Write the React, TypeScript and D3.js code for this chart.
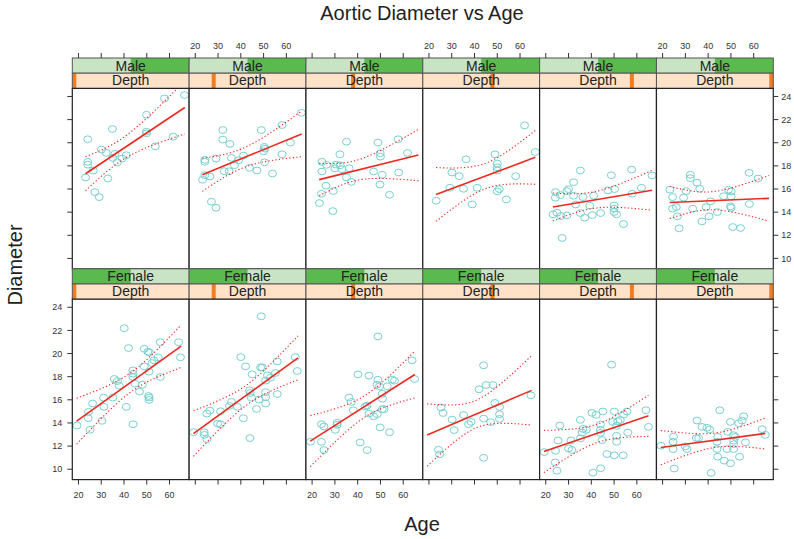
import React from 'react';
import * as d3 from 'd3';

// ---- Data -----------------------------------------------------------
const sexLevels = ['Female', 'Male'];
const depthLevels = [1, 2, 3, 4, 5, 6];
const xTicks = [20, 30, 40, 50, 60];
const yTicks = [10, 12, 14, 16, 18, 20, 22, 24];
const titleText = 'Aortic Diameter vs Age';
const xLabel = 'Age';
const yLabel = 'Diameter';

type P = [number, number];

const male1: P[] = [[66.6,24.12],[57.8,23.83],[49.9,22.42],[34.9,21.19],[24.1,20.30],[49.9,20.96],[49.9,20.81],[61.6,20.53],[53.7,19.69],[30.1,19.41],[32.2,19.12],[36.0,19.04],[41.0,18.92],[35.1,18.69],[39.2,18.63],[37.1,18.31],[24.1,18.35],[24.1,18.11],[26.5,17.60],[23.1,17.00],[32.9,16.91],[27.2,15.73],[29.1,15.30]];
const male2: P[] = [[66.6,22.59],[58.1,21.53],[32.1,21.10],[49.0,21.10],[32.1,20.27],[35.2,19.90],[61.8,20.01],[50.3,19.64],[50.6,19.49],[50.0,19.26],[58.1,19.00],[41.2,18.89],[35.9,18.69],[29.1,18.63],[24.2,18.52],[24.2,18.35],[39.0,18.48],[50.4,18.31],[37.2,18.06],[43.8,17.83],[47.1,17.60],[53.9,17.34],[32.7,17.54],[34.9,17.54],[24.2,17.20],[26.4,17.08],[23.2,16.80],[27.1,14.90],[29.1,14.38]];
const male3: P[] = [[35.1,20.09],[48.9,20.01],[57.8,20.30],[32.2,19.00],[49.9,19.09],[50.0,18.80],[61.9,19.12],[24.3,18.35],[26.3,18.09],[30.5,18.11],[32.3,18.05],[30.0,17.79],[33.1,17.71],[36.3,17.79],[24.3,17.51],[47.0,17.51],[50.8,17.23],[58.0,17.43],[35.1,17.00],[37.2,16.62],[26.1,16.28],[49.8,16.39],[29.3,15.82],[24.1,15.59],[54.0,15.50],[23.2,14.78],[29.1,14.09]];
const male4: P[] = [[62.0,21.50],[66.7,19.20],[36.3,18.57],[49.0,19.00],[50.0,18.20],[50.0,17.88],[50.0,17.60],[30.1,17.43],[33.3,17.11],[58.1,17.11],[29.2,16.11],[35.2,16.02],[41.2,16.11],[50.9,15.99],[50.0,15.79],[54.0,15.10],[23.2,14.99],[39.0,14.67]];
const male5: P[] = [[35.2,17.60],[57.7,17.68],[66.7,17.17],[48.8,17.19],[32.2,16.59],[24.3,15.73],[30.0,15.99],[29.3,15.82],[24.2,15.25],[26.4,15.47],[32.2,15.42],[36.3,15.30],[41.0,15.42],[47.3,15.88],[50.2,15.99],[57.9,15.59],[62.0,16.11],[33.1,14.66],[39.3,14.56],[50.0,14.58],[50.0,14.30],[50.0,14.01],[51.1,13.81],[23.2,13.81],[24.9,13.95],[29.3,13.72],[26.7,13.66],[35.2,13.92],[40.4,13.75],[44.1,13.92],[37.1,13.52],[54.1,12.97],[27.2,11.77]];
const male6: P[] = [[32.2,17.23],[32.2,16.94],[58.0,17.40],[61.9,16.91],[35.1,16.54],[36.3,16.02],[30.3,15.82],[23.2,15.94],[24.4,15.30],[29.2,15.25],[48.9,15.94],[50.1,15.79],[46.8,15.38],[50.1,15.36],[24.4,14.30],[26.0,14.44],[33.2,14.30],[39.1,14.44],[41.1,14.93],[44.0,14.01],[49.8,14.50],[50.1,14.38],[58.1,14.70],[26.5,13.64],[40.4,13.64],[37.3,13.20],[27.3,12.60],[50.8,12.71],[54.2,12.63]];

const female1: P[] = [[40.1,22.19],[42.0,20.47],[48.9,20.41],[50.5,20.15],[51.1,20.09],[55.9,20.98],[64.0,20.98],[64.8,19.67],[55.0,19.67],[53.1,19.41],[52.3,19.18],[48.9,18.89],[51.0,18.43],[43.9,18.54],[43.9,18.26],[43.9,17.97],[55.9,17.97],[35.7,17.80],[37.1,17.62],[37.9,17.22],[44.8,17.39],[48.1,17.31],[46.8,16.71],[50.8,16.33],[51.0,16.19],[51.0,15.99],[31.0,16.19],[35.1,16.19],[41.0,15.39],[31.2,15.39],[26.2,15.68],[24.4,14.96],[24.3,14.41],[25.1,13.41],[30.3,14.18],[19.4,13.78],[44.0,13.89]];
const female2: P[] = [[49.0,23.22],[40.0,19.69],[42.1,18.89],[48.7,18.80],[49.4,18.80],[45.0,18.20],[51.7,18.11],[53.0,17.91],[55.2,18.32],[56.0,19.32],[63.9,19.69],[64.8,18.49],[50.9,17.66],[43.8,16.82],[44.1,16.59],[44.6,16.19],[48.0,16.02],[50.9,16.66],[50.9,16.24],[50.9,15.68],[46.9,15.21],[56.0,16.50],[41.1,14.41],[35.9,15.82],[35.0,15.47],[38.5,15.39],[31.1,15.01],[26.4,15.07],[25.1,14.81],[29.8,13.95],[31.1,13.89],[19.2,13.20],[23.9,13.20],[24.0,12.97],[25.1,12.60],[44.0,12.69]];
const female3: P[] = [[48.9,21.48],[40.1,18.20],[45.0,18.09],[48.9,17.74],[48.5,17.31],[49.6,17.17],[55.2,17.74],[56.2,17.66],[53.0,17.17],[63.9,19.41],[65.0,17.80],[36.2,16.19],[37.2,15.82],[44.1,15.50],[43.3,15.42],[50.8,16.53],[50.9,16.10],[50.8,15.19],[51.6,15.19],[38.1,15.10],[45.0,14.81],[47.0,14.58],[48.6,14.76],[31.0,14.01],[31.0,13.84],[24.1,13.89],[25.2,13.69],[30.2,13.40],[49.9,13.61],[54.0,13.20],[19.3,12.37],[24.1,12.37],[25.2,11.66],[41.1,12.31],[44.2,11.65]];
const female4: P[] = [[44.0,18.98],[45.1,17.28],[48.1,17.28],[42.0,16.91],[25.3,15.33],[26.2,14.86],[35.2,14.69],[30.2,14.29],[31.1,13.38],[38.5,14.09],[37.4,13.89],[44.0,14.38],[47.1,14.07],[49.0,15.73],[51.0,15.38],[51.0,14.75],[51.0,14.35],[64.8,16.39],[24.2,11.68],[24.7,11.28],[44.0,10.99]];
const female5: P[] = [[48.9,19.04],[64.0,15.10],[55.7,14.99],[45.1,14.99],[40.3,14.87],[42.1,14.70],[50.1,14.99],[54.2,14.73],[52.7,14.26],[51.6,14.15],[49.4,14.09],[44.0,13.86],[44.0,13.40],[44.0,13.14],[35.2,14.27],[26.2,13.78],[36.3,13.49],[37.8,13.40],[36.0,13.17],[56.0,13.17],[51.1,13.75],[51.1,12.89],[51.1,12.37],[65.1,13.66],[25.4,12.49],[24.3,11.59],[31.1,12.49],[30.0,11.80],[31.5,11.66],[35.3,12.67],[44.7,12.52],[46.9,11.31],[50.1,11.20],[54.0,11.20],[19.3,11.48],[24.2,10.59],[24.9,9.87],[40.7,9.70],[44.1,10.08]];
const female6: P[] = [[45.1,15.10],[55.6,14.58],[49.8,14.09],[53.4,13.98],[54.9,14.21],[35.1,14.21],[37.3,13.66],[39.5,13.58],[40.7,13.43],[48.6,13.23],[51.2,12.94],[52.0,12.80],[44.2,12.80],[34.8,12.69],[35.8,12.69],[63.7,13.46],[65.1,12.97],[56.4,12.32],[51.2,12.46],[51.2,12.17],[51.2,11.74],[48.3,11.74],[43.9,11.74],[43.9,12.37],[24.8,12.81],[24.6,12.37],[19.3,12.03],[24.6,11.74],[30.0,11.97],[30.7,11.74],[44.2,11.08],[47.1,10.74],[49.8,10.51],[53.8,11.08],[25.1,10.06],[41.3,9.68]];

const maleData = [male1, male2, male3, male4, male5, male6];
const femaleData = [female1, female2, female3, female4, female5, female6];

// ---- Layout / style ----------------------------------------------------
const W = 794, H = 539;
const LEFT = 72.3, PW = 116.83;
const STRIP = 15.2, PH = 180.4;
const ROW_TOP = [58, 58 + 2 * STRIP + PH];
const FONT = '"Liberation Sans", Arial, Helvetica, sans-serif';
const PT_COL = '#79CFCF';
const FIT_COL = '#EC2A22';
const LIGHT_GREEN = '#C9E4C4';
const DARK_GREEN = '#5BBA4E';
const PEACH = '#FFE2C8';
const ORANGE = '#F47C20';
const BAND_K = 3.0;

function fit(pts: P[], range: [number, number]) {
  const n = pts.length;
  const xbar = d3.mean(pts, (p) => p[0])!;
  const ybar = d3.mean(pts, (p) => p[1])!;
  const sxx = d3.sum(pts, (p) => (p[0] - xbar) ** 2);
  const sxy = d3.sum(pts, (p) => (p[0] - xbar) * (p[1] - ybar));
  const b = sxy / sxx;
  const a = ybar - b * xbar;
  const sse = d3.sum(pts, (p) => (p[1] - a - b * p[0]) ** 2);
  const s = Math.sqrt(sse / (n - 2));
  const grid = d3.range(0, 61).map((i) => range[0] + ((range[1] - range[0]) * i) / 60);
  const hw = (x: number) => BAND_K * s * Math.sqrt(1 / n + (x - xbar) ** 2 / sxx);
  return {
    line: range.map((x) => [x, a + b * x] as P),
    upper: grid.map((x) => [x, a + b * x + hw(x)] as P),
    lower: grid.map((x) => [x, a + b * x - hw(x)] as P),
  };
}

export default function App() {
  const all = [...maleData.flat(), ...femaleData.flat()];
  const xe = d3.extent(all, (p) => p[0]) as [number, number];
  const ye = d3.extent(all, (p) => p[1]) as [number, number];
  const xp = (xe[1] - xe[0]) * 0.04;
  const yp = (ye[1] - ye[0]) * 0.04;
  const x = d3.scaleLinear().domain([xe[0] - xp, xe[1] + xp]).range([0, PW]);
  const y = d3.scaleLinear().domain([ye[0] - yp, ye[1] + yp]).range([PH, 0]);
  const lineGen = d3.line<P>().x((d) => x(d[0])).y((d) => y(d[1]));

  const rows = [
    { sex: 'Male', data: maleData, top: ROW_TOP[0] },
    { sex: 'Female', data: femaleData, top: ROW_TOP[1] },
  ];

  const panelBottom = ROW_TOP[1] + 2 * STRIP + PH;
  const rightEdge = LEFT + 6 * PW;

  return (
    <svg width={W} height={H} style={{ position: 'absolute', left: 0, top: 0, background: '#fff' }} fontFamily={FONT}>
      <rect x={0} y={0} width={W} height={H} fill="#fff" />
      <defs>
        <clipPath id="pclip">
          <rect x={0} y={0} width={PW} height={PH} />
        </clipPath>
      </defs>
      <text x={422} y={19.5} fontSize={20} textAnchor="middle" fill="#222">{titleText}</text>
      <text x={422} y={531} fontSize={20} textAnchor="middle" fill="#222">{xLabel}</text>
      <text transform={`translate(22,265) rotate(-90)`} fontSize={20} textAnchor="middle" fill="#222">{yLabel}</text>

      {rows.map((row, r) => {
        const sexIdx = sexLevels.indexOf(row.sex);
        const rowPts = row.data.flat();
        const range = d3.extent(rowPts, (p) => p[0]) as [number, number];
        return depthLevels.map((lvl, c) => {
          const pts = row.data[c];
          const f = fit(pts, range);
          const gx = LEFT + c * PW;
          const barW = 4;
          const barX = ((lvl - 1) / (depthLevels.length - 1)) * (PW - barW);
          return (
            <g key={`${r}-${c}`} transform={`translate(${gx},${row.top})`}>
              <rect x={0} y={0} width={PW} height={STRIP} fill={LIGHT_GREEN} />
              <rect x={(sexIdx * PW) / sexLevels.length} y={0} width={PW / sexLevels.length} height={STRIP} fill={DARK_GREEN} />
              <rect x={0} y={0} width={PW} height={STRIP} fill="none" stroke="#555" strokeWidth={1} />
              <text x={PW / 2} y={STRIP - 2.6} fontSize={14} textAnchor="middle" fill="#222">{row.sex}</text>
              <rect x={0} y={STRIP} width={PW} height={STRIP} fill={PEACH} />
              <rect x={barX} y={STRIP} width={barW} height={STRIP} fill={ORANGE} />
              <rect x={0} y={STRIP} width={PW} height={STRIP} fill="none" stroke="#555" strokeWidth={1} />
              <text x={PW / 2} y={2 * STRIP - 3} fontSize={14} textAnchor="middle" fill="#222">Depth</text>
              <g transform={`translate(0,${2 * STRIP})`}>
                <rect x={0} y={0} width={PW} height={PH} fill="#fff" />
                <g clipPath="url(#pclip)">
                  {pts.map((p, i) => (
                    <ellipse key={i} cx={x(p[0])} cy={y(p[1])} rx={4} ry={3.4} fill="none" stroke={PT_COL} strokeWidth={1} />
                  ))}
                  <path d={lineGen(f.upper) || ''} fill="none" stroke={FIT_COL} strokeWidth={1.1} strokeDasharray="1.3 2.2" />
                  <path d={lineGen(f.lower) || ''} fill="none" stroke={FIT_COL} strokeWidth={1.1} strokeDasharray="1.3 2.2" />
                  <path d={lineGen(f.line) || ''} fill="none" stroke={FIT_COL} strokeWidth={1.6} />
                </g>
                <rect x={0} y={0} width={PW} height={PH} fill="none" stroke="#222" strokeWidth={1.2} />
              </g>
            </g>
          );
        });
      })}

      {/* top axis */}
      {depthLevels.map((_, c) => (
        <g key={`ta${c}`} transform={`translate(${LEFT + c * PW},${ROW_TOP[0]})`}>
          {xTicks.map((t) => (
            <g key={t}>
              <line x1={x(t)} x2={x(t)} y1={0} y2={-5} stroke="#333" strokeWidth={1} />
              {c % 2 === 1 && (
                <text x={x(t)} y={-9} fontSize={9} textAnchor="middle" fill="#333">{t}</text>
              )}
            </g>
          ))}
        </g>
      ))}
      {/* bottom axis */}
      {depthLevels.map((_, c) => (
        <g key={`ba${c}`} transform={`translate(${LEFT + c * PW},${panelBottom})`}>
          {xTicks.map((t) => (
            <g key={t}>
              <line x1={x(t)} x2={x(t)} y1={0} y2={5} stroke="#333" strokeWidth={1} />
              {c % 2 === 0 && (
                <text x={x(t)} y={18} fontSize={9} textAnchor="middle" fill="#333">{t}</text>
              )}
            </g>
          ))}
        </g>
      ))}
      {/* left & right axes */}
      {rows.map((row, r) => (
        <g key={`lr${r}`} transform={`translate(0,${row.top + 2 * STRIP})`}>
          {yTicks.map((t) => (
            <g key={t}>
              <line x1={LEFT} x2={LEFT - 5} y1={y(t)} y2={y(t)} stroke="#333" strokeWidth={1} />
              <line x1={rightEdge} x2={rightEdge + 5} y1={y(t)} y2={y(t)} stroke="#333" strokeWidth={1} />
              {r === 1 && (
                <text x={LEFT - 10} y={y(t) + 3.2} fontSize={9} textAnchor="end" fill="#333">{t}</text>
              )}
              {r === 0 && (
                <text x={rightEdge + 8} y={y(t) + 3.2} fontSize={9} textAnchor="start" fill="#333">{t}</text>
              )}
            </g>
          ))}
        </g>
      ))}
    </svg>
  );
}
